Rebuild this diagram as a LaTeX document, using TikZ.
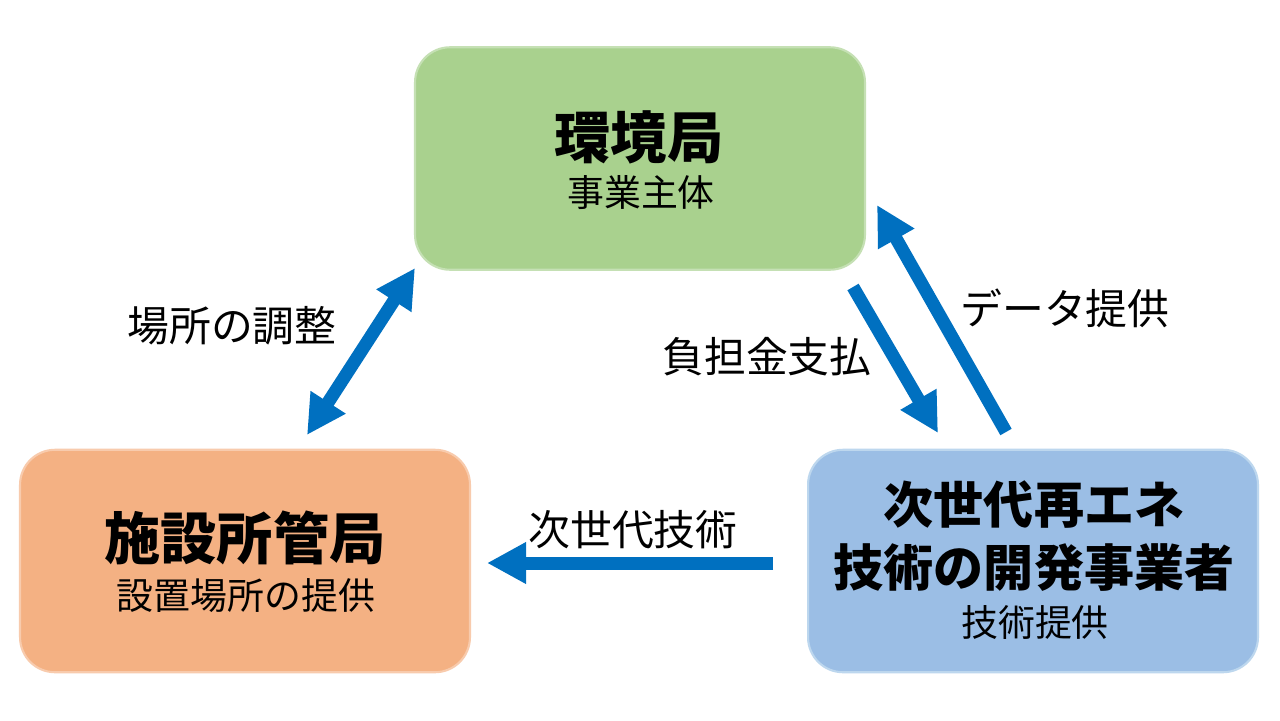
\documentclass[tikz,border=0pt]{standalone}
\usepackage{fontspec}
\setmainfont{Noto Sans CJK JP}
\usetikzlibrary{arrows.meta}
\definecolor{gfill}{HTML}{A9D18E}
\definecolor{gline}{HTML}{C5E0B4}
\definecolor{ofill}{HTML}{F4B183}
\definecolor{oline}{HTML}{F8CBAD}
\definecolor{bfill}{HTML}{9BBEE5}
\definecolor{bline}{HTML}{BDD7EE}
\definecolor{arr}{HTML}{0070C0}
\tikzset{
  box/.style={rounded corners=0.7cm, line width=1.2pt, minimum width=9cm, minimum height=4.45cm, inner sep=0pt},
  ttl/.style={font=\fontsize{32}{36}\selectfont\bfseries, inner sep=0pt},
  ttlb/.style={font=\fontsize{28.5}{32}\selectfont\bfseries, inner sep=0pt},
  sub/.style={font=\fontsize{21}{24}\selectfont, inner sep=0pt},
  lbl/.style={font=\fontsize{23.8}{26}\selectfont, inner sep=0pt},
  flow/.style={draw=arr, line width=0.26cm, -{Triangle[length=0.78cm, width=0.78cm]}},
  flow2/.style={draw=arr, line width=0.26cm, {Triangle[length=0.78cm, width=0.78cm]}-{Triangle[length=0.78cm, width=0.78cm]}}
}
\begin{document}
\begin{tikzpicture}[x=0.02cm, y=-0.02cm]
\useasboundingbox[fill=white] (0,0) rectangle (1280,720);
% boxes
\node[box, draw=gline, fill=gfill] (kan) at (640,158.5) {};
\node[box, draw=oline, fill=ofill] (shi) at (245,561) {};
\node[box, draw=bline, fill=bfill] (jis) at (1033,561) {};
% texts
\node[ttl] (kant) at (639,137) {環境局};
\node[sub] (kans) at (641,193) {事業主体};
\node[ttl] (shit) at (245,538) {施設所管局};
\node[sub] (shis) at (246,596) {設置場所の提供};
\node[ttlb] (jist1) at (1034,505) {次世代再エネ};
\node[ttlb] (jist2) at (1034,568) {技術の開発事業者};
\node[sub] (jiss) at (1035,622) {技術提供};
% labels
\node[lbl] (l1) at (232,326) {場所の調整};
\node[lbl] (l2) at (767,357) {負担金支払};
\node[lbl] (l3) at (1065,308) {データ提供};
\node[lbl] (l4) at (633,530) {次世代技術};
% arrow endpoints
\coordinate (a1s) at (307,435);
\coordinate (a1e) at (415,268);
\coordinate (a2s) at (853,287);
\coordinate (a2e) at (938,433);
\coordinate (a3s) at (1006,432);
\coordinate (a3e) at (877,205);
\coordinate (a4s) at (773,563);
\coordinate (a4e) at (487,563);
\draw[flow2] (a1s) -- (a1e);
\draw[flow] (a2s) -- (a2e);
\draw[flow] (a3s) -- (a3e);
\draw[flow] (a4s) -- (a4e);
\end{tikzpicture}
\end{document}
